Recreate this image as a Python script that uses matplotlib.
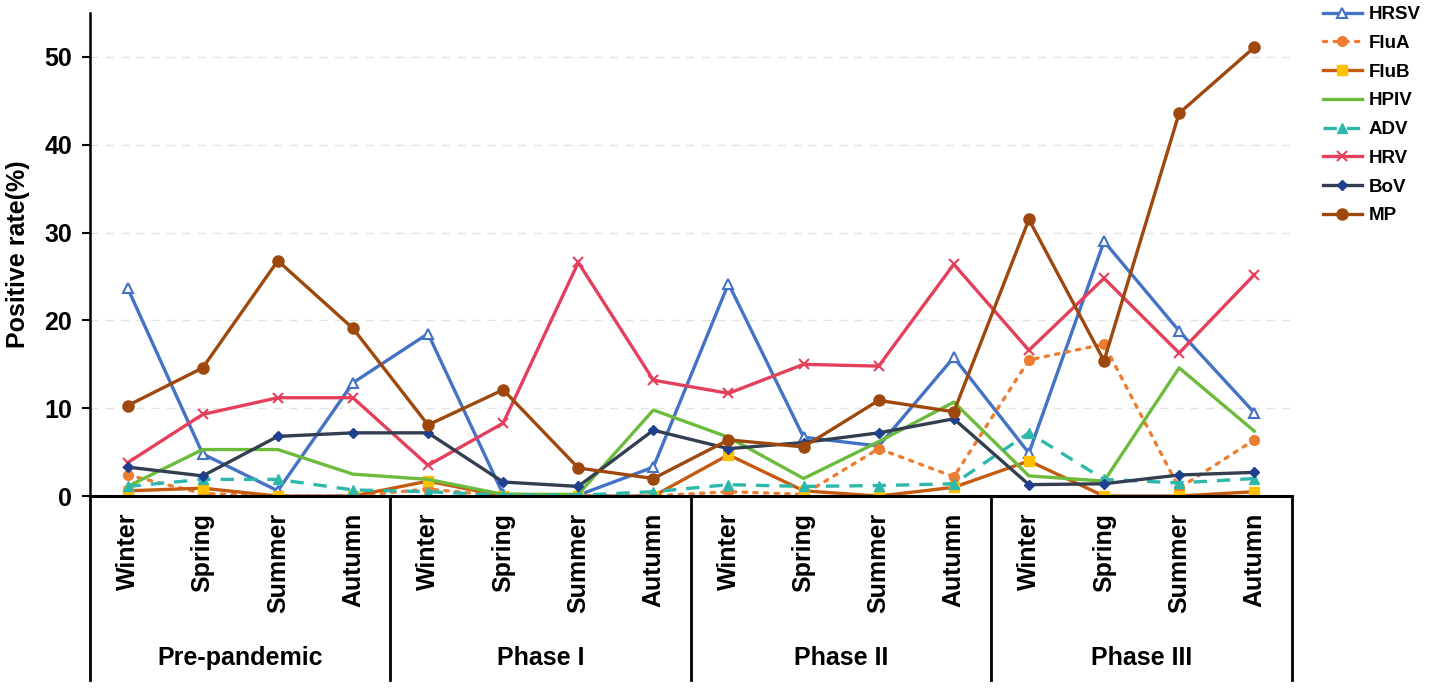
import matplotlib
matplotlib.use("Agg")
from matplotlib import pyplot as plt

plt.rcParams['font.family'] = ['Liberation Sans', 'DejaVu Sans']
plt.rcParams['font.weight'] = 'bold'

seasons = ["Winter", "Spring", "Summer", "Autumn"] * 4
phases = ["Pre-pandemic", "Phase I", "Phase II", "Phase III"]

HRSV = [23.7, 4.8, 0.6, 12.9, 18.5, 0.2, 0.1, 3.3, 24.2, 6.7, 5.7, 15.8, 4.9, 29.0, 18.8, 9.5]
FluA = [2.4, 0.3, 0.0, 0.0, 0.8, 0.0, 0.0, 0.0, 0.5, 0.2, 5.4, 2.2, 15.5, 17.3, 0.9, 6.4]
FluB = [0.6, 0.9, 0.0, 0.0, 1.7, 0.0, 0.0, 0.0, 4.7, 0.6, 0.0, 1.0, 4.0, 0.0, 0.0, 0.5]
HPIV = [1.1, 5.3, 5.3, 2.5, 1.9, 0.2, 0.2, 9.8, 6.7, 2.0, 6.2, 10.7, 2.3, 1.7, 14.6, 7.4]
ADV = [1.1, 1.9, 1.9, 0.7, 0.5, 0.1, 0.1, 0.5, 1.3, 1.1, 1.2, 1.4, 7.2, 1.9, 1.5, 2.0]
HRV = [3.8, 9.3, 11.2, 11.2, 3.5, 8.3, 26.6, 13.2, 11.7, 15.0, 14.8, 26.4, 16.6, 24.8, 16.3, 25.2]
BoV = [3.3, 2.3, 6.8, 7.2, 7.2, 1.6, 1.1, 7.5, 5.4, 6.1, 7.2, 8.8, 1.3, 1.4, 2.4, 2.7]
MP = [10.3, 14.6, 26.8, 19.1, 8.1, 12.1, 3.2, 2.0, 6.4, 5.6, 10.9, 9.6, 31.5, 15.4, 43.6, 51.1]

x = list(range(len(seasons)))

fig = plt.figure(figsize=(14.29, 6.89), dpi=100)
ax = fig.add_axes([0.063, 0.280, 0.841, 0.701])

lw = 2.4
ax.plot(x, HRSV, color="#4472C4", lw=lw, marker="^", ms=7, mfc="white", mec="#4472C4", mew=1.5, label="HRSV")
ax.plot(x, FluA, color="#ED7D31", lw=lw, ls=(0, (1, 2.2)), dash_capstyle="round", marker="o", ms=7, label="FluA")
ax.plot(x, FluB, color="#C55A11", lw=lw, marker="s", ms=7, mfc="#FFC000", mec="#FFC000", label="FluB")
ax.plot(x, HPIV, color="#6CBB3C", lw=lw, label="HPIV")
ax.plot(x, ADV, color="#2EB8AC", lw=lw, ls=(0, (4, 3)), marker="^", ms=7, label="ADV")
ax.plot(x, HRV, color="#E4405C", lw=lw, marker="x", ms=7, mew=1.5, label="HRV")
ax.plot(x, BoV, color="#333F50", lw=lw, marker="D", ms=5.5, mfc="#1F3F8F", mec="#1F3F8F", label="BoV")
ax.plot(x, MP, color="#9E480E", lw=lw, marker="o", ms=8, label="MP")

ax.set_xlim(-0.5, 15.5)
ax.set_ylim(0, 55)
ax.set_yticks([0, 10, 20, 30, 40, 50])
ax.tick_params(axis="y", labelsize=18, length=6, width=1.5, pad=7)
ax.set_xticks([])
ax.yaxis.grid(True, ls=(0, (6, 5)), color="#E3E3E3", lw=1)
ax.set_axisbelow(True)
for s in ["top", "right"]:
    ax.spines[s].set_visible(False)
ax.spines["left"].set_linewidth(1.8)
ax.spines["bottom"].set_linewidth(2.2)
ax.set_ylabel("Positive rate(%)", fontsize=18, fontweight="bold", labelpad=10)

# table under the axis
trans = ax.get_xaxis_transform()
for b in [-0.5, 3.5, 7.5, 11.5, 15.5]:
    ax.plot([b, b], [0, -0.381], color="black", lw=2, transform=trans, clip_on=False)
for i, s in enumerate(seasons):
    ax.text(i, -0.035, s, rotation=90, ha="center", va="top", fontsize=18,
            fontweight="bold", transform=trans)
for k, p in enumerate(phases):
    ax.text(4 * k + 1.5, -0.335, p, ha="center", va="center", fontsize=18,
            fontweight="bold", transform=trans)

leg = ax.legend(loc="upper left", bbox_to_anchor=(1.0195, 1.03), frameon=False,
                fontsize=13.5, handlelength=2.1, labelspacing=0.62, handletextpad=0.35,
                borderaxespad=0)
for t in leg.get_texts():
    t.set_fontweight("bold")

fig.savefig("out.png", dpi=100)
